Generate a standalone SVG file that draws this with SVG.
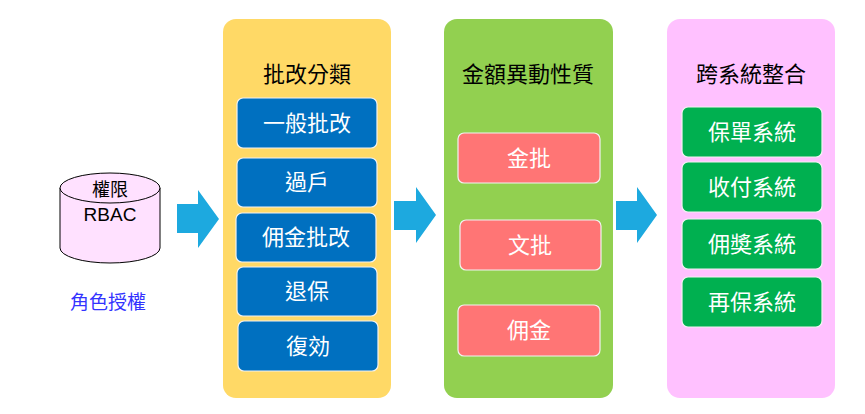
<svg xmlns="http://www.w3.org/2000/svg" width="865" height="414" viewBox="0 0 865 414">
<defs>
<style>
.cjk{font-family:"Noto Sans CJK TC","Noto Sans CJK SC",sans-serif;}
.title{font-size:22px;fill:#000;text-anchor:middle;dominant-baseline:central;}
.btxt{font-size:22px;fill:#fff;text-anchor:middle;dominant-baseline:central;}
.box{stroke:#f2f2f2;stroke-width:1.2;}
.blue{fill:#0070c0;}
.red{fill:#ff7575;}
.grn{fill:#00b050;}
.arrow{fill:#1da9df;}
</style>
</defs>
<rect width="865" height="414" fill="#fff"/>
<g id="rbac">
<path d="M60,188 L60,248 A50,15 0 0 0 160,248 L160,188" fill="#ffe1ff" stroke="#000" stroke-width="1"/>
<ellipse cx="110" cy="188" rx="50" ry="15" fill="#ffe1ff" stroke="#000" stroke-width="1"/>
<text x="110" y="188" class="cjk" font-size="18" text-anchor="middle" dominant-baseline="central" fill="#000">權限</text>
<text x="110" y="221" font-family="Liberation Sans, Arial, sans-serif" font-size="19" text-anchor="middle" fill="#000">RBAC</text>
<text x="108" y="300" class="cjk" font-size="19" text-anchor="middle" dominant-baseline="central" fill="#3333ff">角色授權</text>
</g>
<g id="connectors">
<polygon class="arrow" points="177,204 198,204 198,190 219,219 198,248 198,233 177,233"/>
<polygon class="arrow" points="394,201 416,201 416,187 436,215 416,243 416,230 394,230"/>
<polygon class="arrow" points="616,201 637,201 637,187 657,215 637,243 637,230 616,230"/>
</g>
<g id="panel-batch">
<rect x="223" y="19" width="168" height="379" rx="13" fill="#ffd966"/>
<text x="307" y="72" class="cjk title">批改分類</text>
<g id="b1"><rect class="box blue" x="237" y="98" width="140" height="50" rx="6"/><text x="307" y="121" class="cjk btxt">一般批改</text></g>
<g id="b2"><rect class="box blue" x="237" y="158" width="140" height="49" rx="6"/><text x="307" y="180" class="cjk btxt">過戶</text></g>
<g id="b3"><rect class="box blue" x="236" y="213" width="140" height="49" rx="6"/><text x="306" y="235" class="cjk btxt">佣金批改</text></g>
<g id="b4"><rect class="box blue" x="237" y="267" width="140" height="49" rx="6"/><text x="307" y="289" class="cjk btxt">退保</text></g>
<g id="b5"><rect class="box blue" x="238" y="321" width="140" height="50" rx="6"/><text x="308" y="344" class="cjk btxt">復効</text></g>
</g>
<g id="panel-amount">
<rect x="444" y="19" width="169" height="379" rx="13" fill="#92d050"/>
<text x="528" y="72" class="cjk title">金額異動性質</text>
<g id="r1"><rect class="box red" x="458" y="133" width="142" height="50" rx="6"/><text x="529" y="156" class="cjk btxt">金批</text></g>
<g id="r2"><rect class="box red" x="460" y="220" width="141" height="50" rx="6"/><text x="530" y="243" class="cjk btxt">文批</text></g>
<g id="r3"><rect class="box red" x="458" y="305" width="142" height="51" rx="6"/><text x="529" y="328" class="cjk btxt">佣金</text></g>
</g>
<g id="panel-system">
<rect x="667" y="19" width="168" height="379" rx="13" fill="#ffc1ff"/>
<text x="751" y="72" class="cjk title">跨系統整合</text>
<g id="g1"><rect class="box grn" x="682" y="107" width="140" height="50" rx="6"/><text x="752" y="130" class="cjk btxt">保單系統</text></g>
<g id="g2"><rect class="box grn" x="682" y="162" width="140" height="50" rx="6"/><text x="752" y="185" class="cjk btxt">收付系統</text></g>
<g id="g3"><rect class="box grn" x="682" y="219" width="140" height="50" rx="6"/><text x="752" y="242" class="cjk btxt">佣奬系統</text></g>
<g id="g4"><rect class="box grn" x="682" y="277" width="140" height="50" rx="6"/><text x="752" y="300" class="cjk btxt">再保系統</text></g>
</g>
</svg>
